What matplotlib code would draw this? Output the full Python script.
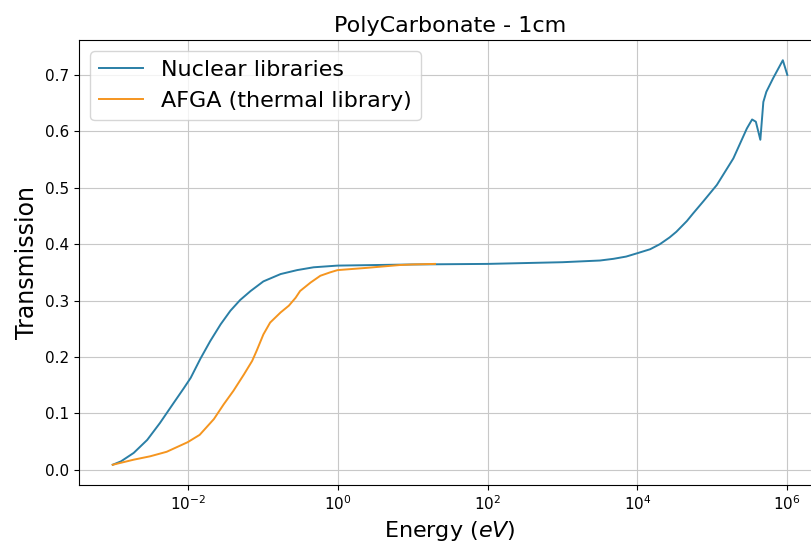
import numpy as np
import matplotlib
matplotlib.use("Agg")
import matplotlib.pyplot as plt

# Nuclear libraries: log10(energy / eV) and transmission
nuc_logE = [-3.00, -2.89, -2.72, -2.54, -2.37, -2.19, -2.05, -1.96, -1.83, -1.70,
            -1.56, -1.43, -1.30, -1.16, -0.99, -0.76, -0.54, -0.32, 0.00, 0.50,
            1.00, 2.00, 3.00, 3.50, 3.68, 3.85, 4.00, 4.17, 4.30, 4.43,
            4.52, 4.66, 4.74, 4.88, 5.06, 5.28, 5.46, 5.53, 5.58, 5.64,
            5.68, 5.72, 5.81, 5.94, 6.00]
nuc_trans = [0.009, 0.015, 0.030, 0.053, 0.083, 0.118, 0.145, 0.163, 0.197, 0.228,
             0.258, 0.282, 0.301, 0.317, 0.334, 0.347, 0.354, 0.359, 0.362, 0.363,
             0.364, 0.365, 0.368, 0.371, 0.374, 0.378, 0.384, 0.391, 0.400, 0.412,
             0.422, 0.441, 0.454, 0.476, 0.505, 0.552, 0.605, 0.621, 0.617, 0.585,
             0.652, 0.670, 0.694, 0.726, 0.700]

# AFGA (thermal library): log10(energy / eV) and transmission
afga_logE = [-3.00, -2.72, -2.50, -2.28, -2.00, -1.84, -1.65, -1.52, -1.39, -1.25,
             -1.14, -1.08, -0.99, -0.90, -0.76, -0.65, -0.56, -0.50, -0.36, -0.23,
             -0.10, 0.00, 0.39, 0.83, 1.00, 1.30]
afga_trans = [0.009, 0.018, 0.024, 0.032, 0.049, 0.062, 0.090, 0.116, 0.140, 0.169,
              0.193, 0.211, 0.240, 0.261, 0.279, 0.291, 0.305, 0.317, 0.332, 0.344,
              0.350, 0.354, 0.358, 0.363, 0.364, 0.365]

nuc_energy = 10.0 ** np.array(nuc_logE)
afga_energy = 10.0 ** np.array(afga_logE)

fig = plt.figure(figsize=(8.11, 5.48), dpi=100)
ax = fig.add_axes([0.0974, 0.115, 0.915, 0.812])

ax.plot(nuc_energy, nuc_trans, color="#2a7fa6", lw=1.4, label="Nuclear libraries")
ax.plot(afga_energy, afga_trans, color="#f5951f", lw=1.4, label="AFGA (thermal library)")
ax.set_xscale("log")
ax.set_xticks([1e-2, 1e0, 1e2, 1e4, 1e6])
ax.minorticks_off()
ax.grid(True, color="#c8c8c8", lw=0.8)
ax.tick_params(labelsize=11)
ax.set_title("PolyCarbonate - 1cm", fontsize=16)
ax.set_xlabel("Energy ($eV$)", fontsize=16)
ax.set_ylabel("Transmission", fontsize=17)
ax.legend(loc="upper left", fontsize=16)

fig.savefig("out.png", dpi=100)
